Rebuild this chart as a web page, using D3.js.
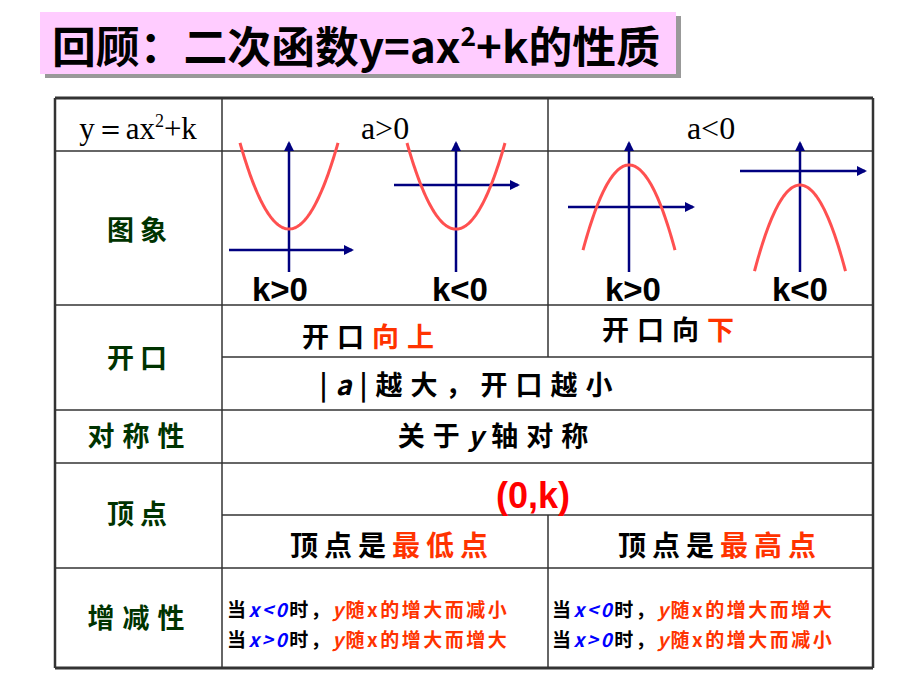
<!DOCTYPE html><html><head><meta charset="utf-8">
<script src="https://cdn.jsdelivr.net/npm/d3@7"></script>
<style>body{margin:0;background:#fff}</style></head><body>
<script>
const graphs=[{a:4.1,k:1,w:49,label:"k>0"},{a:4.1,k:-2.1,w:49,label:"k<0"},{a:-4.05,k:2,w:46,label:"k>0"},{a:-4.1,k:-0.67,w:45.5,label:"k<0"}];
const frames=[{cx:289,cy:250,xl:229,xr:352},{cx:456,cy:185,xl:394,xr:518},{cx:629,cy:207,xl:568,xr:693},{cx:800,cy:171,xl:740,xr:865}];
const labelX=[280,460,633,800];
const CJK='"Noto Sans CJK SC"';
const svg=d3.select("body").append("svg").attr("width",920).attr("height",690);
const defs=svg.append("defs");
defs.append("marker").attr("id","ar").attr("viewBox","0 0 10 10").attr("refX",8).attr("refY",5)
 .attr("markerWidth",4).attr("markerHeight",4).attr("orient","auto")
 .append("path").attr("d","M0,0L10,5L0,10z").attr("fill","#000080");
svg.append("rect").attr("x",45).attr("y",16).attr("width",636).attr("height",62).attr("fill","#999");
svg.append("rect").attr("x",40).attr("y",12).attr("width",636).attr("height",62).attr("fill","#ffccff");
const t=svg.append("text").attr("x",52).attr("y",63).attr("font-family",CJK).attr("font-weight","bold").attr("font-size",43).attr("fill","#000").attr("textLength",608).attr("lengthAdjust","spacingAndGlyphs");
t.append("tspan").text("回顾：二次函数y=ax");
t.append("tspan").attr("font-size",26).attr("dy",-17).text("2");
t.append("tspan").attr("dy",17).text("+k的性质");
const g=svg.append("g").attr("stroke","#333").attr("stroke-width",1.5);
const hl=(y,x1,x2,w)=>g.append("line").attr("x1",x1).attr("x2",x2).attr("y1",y).attr("y2",y).attr("stroke-width",w||1.5);
const vl=(x,y1,y2,w)=>g.append("line").attr("x1",x).attr("x2",x).attr("y1",y1).attr("y2",y2).attr("stroke-width",w||1.5);
hl(98,55,873,3);hl(151,55,873);hl(305,55,873);hl(357,222,873);hl(410,55,873);hl(463,55,873);hl(515,222,873);hl(568,55,873);hl(668,55,873,3);
vl(55,98,668,2.5);vl(873,98,668,2.5);vl(222,98,668);
vl(548,98,357);vl(548,515,668);
const txt=(x,y,s,o={})=>svg.append("text").attr("x",x).attr("y",y).attr("text-anchor","middle")
 .attr("font-family",o.font||CJK).attr("font-weight",o.weight||"bold").attr("font-size",o.size||24)
 .attr("letter-spacing",o.ls||0).attr("fill",o.fill||"#000").text(s);
const h=svg.append("text").attr("x",138).attr("y",139).attr("text-anchor","middle").attr("font-family","Liberation Serif").attr("font-size",31);
h.append("tspan").text("y＝ax");h.append("tspan").attr("font-size",18).attr("dy",-12).text("2");h.append("tspan").attr("dy",12).text("+k");
txt(385,139,"a>0",{font:"Liberation Serif",weight:"normal",size:32});
txt(711,139,"a<0",{font:"Liberation Serif",weight:"normal",size:32});
graphs.forEach((d,i)=>{
  const f=frames[i];
  const x=d3.scaleLinear().domain([-1,1]).range([f.cx-d.w,f.cx+d.w]);
  const y=d3.scaleLinear().domain([0,1]).range([f.cy,f.cy-21]);
  svg.append("line").attr("x1",f.xl).attr("x2",f.xr).attr("y1",f.cy).attr("y2",f.cy).attr("stroke","#000080").attr("stroke-width",2.5).attr("marker-end","url(#ar)");
  svg.append("line").attr("x1",f.cx).attr("x2",f.cx).attr("y1",272).attr("y2",143).attr("stroke","#000080").attr("stroke-width",2.5).attr("marker-end","url(#ar)");
  const pts=d3.range(-1,1.001,0.02);
  const line=d3.line().x(p=>x(p)).y(p=>y(d.k+d.a*p*p));
  svg.append("path").attr("d",line(pts)).attr("fill","none").attr("stroke","#ff5050").attr("stroke-width",3);
  txt(labelX[i],301,d.label,{font:"Liberation Sans",size:33});
});
const green="#003300", red="#ff3300";
txt(140,240,"图象",{fill:green,size:27,ls:6});
txt(140,368,"开口",{fill:green,size:27,ls:6});
txt(140,446,"对称性",{fill:green,size:27,ls:8});
txt(140,524,"顶点",{fill:green,size:27,ls:6});
txt(140,628,"增减性",{fill:green,size:27,ls:8});
const multi=(x,y,parts,size,ls)=>{const e=svg.append("text").attr("x",x).attr("y",y).attr("text-anchor","middle").attr("font-family",CJK).attr("font-weight","bold").attr("font-size",size||27).attr("letter-spacing",ls==null?8:ls);
 parts.forEach(p=>e.append("tspan").attr("fill",p[1]).attr("font-style",p[2]||null).text(p[0]));};
multi(372,347,[["开口","#000"],["向上",red]]);
multi(672,340,[["开口向","#000"],["下",red]]);
multi(470,395,[["|","#000"],["a","#000","italic"],["|越大，开口越小","#000"]]);
multi(497,446,[["关于","#000"],["y","#000","italic"],["轴对称","#000"]]);
txt(533,508,"(0,k)",{font:"Liberation Sans",fill:"#ff0000",size:36});
multi(392,556,[["顶点是","#000"],["最低点",red]],28,6);
multi(720,556,[["顶点是","#000"],["最高点",red]],28,6);
const blue="#0000ff";
const rows=[[227,617,"<0","随x的增大而减小"],[227,647,">0","随x的增大而增大"],[552,617,"<0","随x的增大而增大"],[552,647,">0","随x的增大而减小"]];
rows.forEach(r=>{const e=svg.append("text").attr("x",r[0]).attr("y",r[1]).attr("font-family",CJK).attr("font-weight","bold").attr("font-size",19).attr("letter-spacing",2.5);
 e.append("tspan").attr("fill","#000").text("当");
 e.append("tspan").attr("fill",blue).attr("font-style","italic").text("x"+r[2]);
 e.append("tspan").attr("fill","#000").text("时，");
 e.append("tspan").attr("fill",red).attr("font-style","italic").text("y");
 e.append("tspan").attr("fill",red).text(r[3]);});
</script></body></html>
